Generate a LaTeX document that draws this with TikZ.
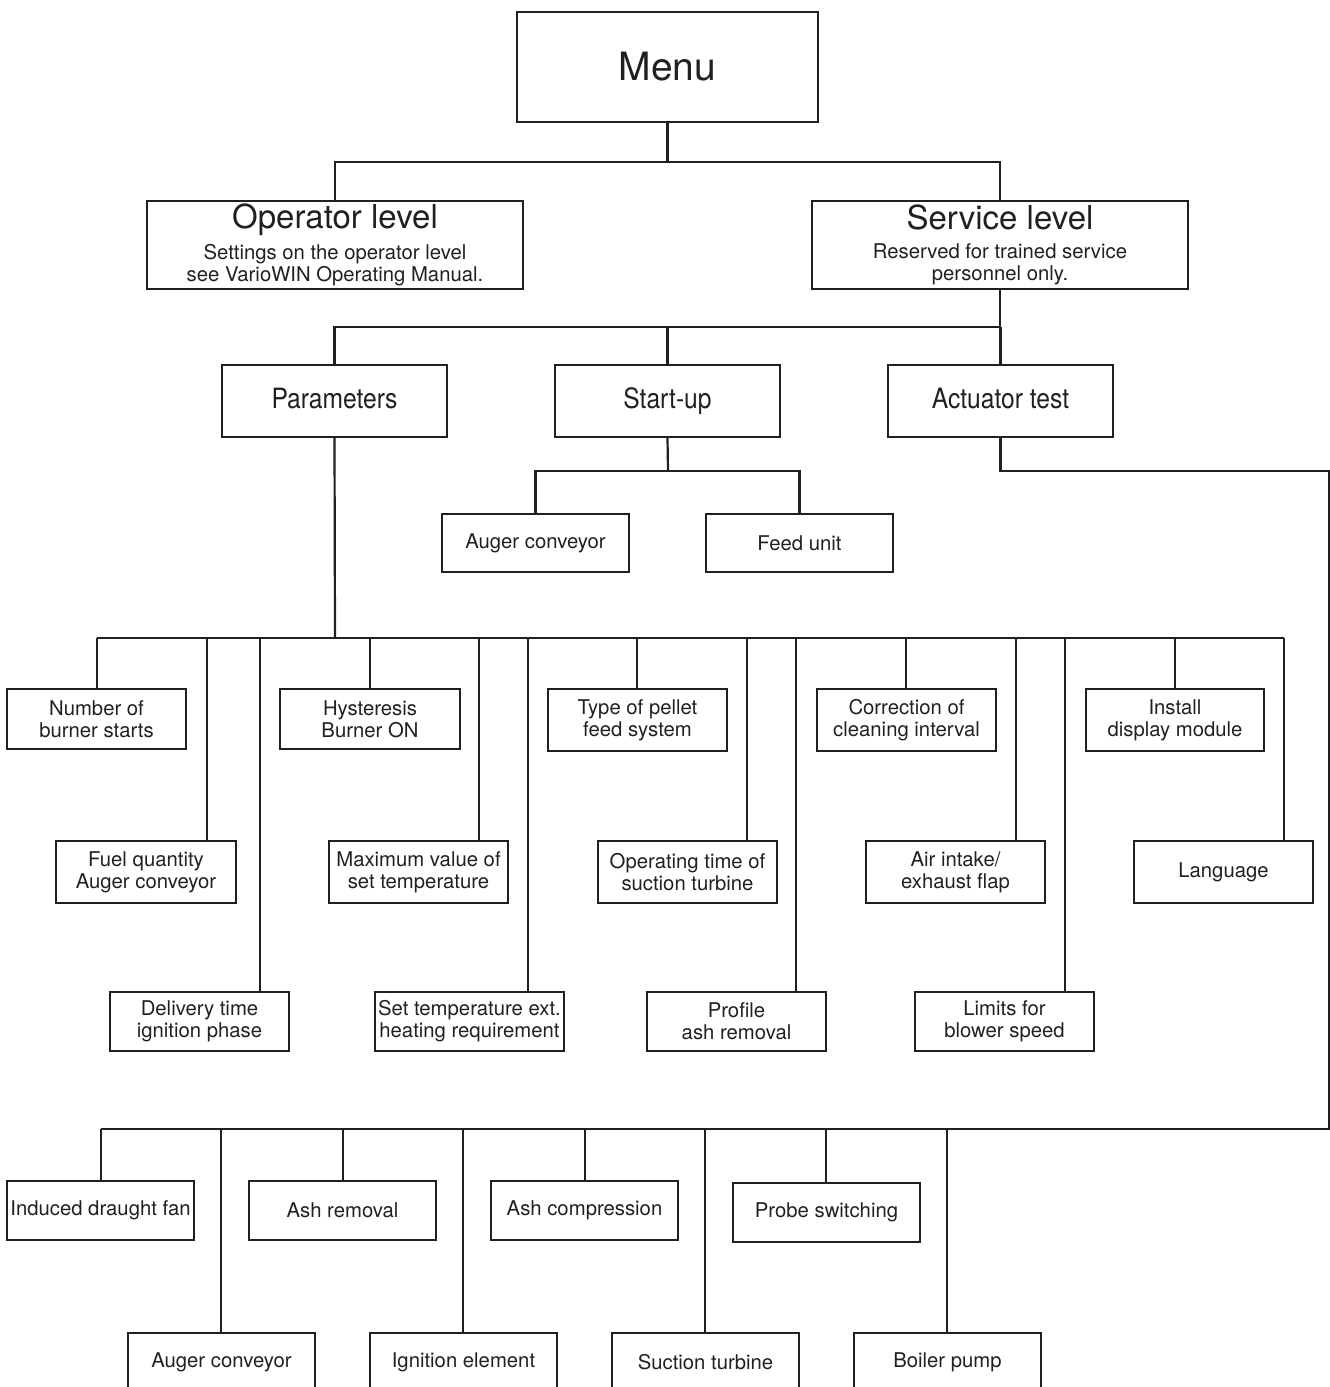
\documentclass[tikz,border=0pt]{standalone}
\usepackage{fontspec}
\setmainfont{TeX Gyre Heros}
\newfontfamily\condfont[FakeStretch=0.88]{TeX Gyre Heros}
\usepackage{tikz}
\definecolor{ink}{HTML}{231F20}
\tikzstyle{box}=[draw=ink,line width=2.2pt,text=ink,align=center,inner sep=2pt,font=\fontsize{20.3}{22}\selectfont]
\tikzstyle{sub box}=[box,font=\condfont\fontsize{28}{30}\selectfont,text height=20pt,text depth=6pt,minimum width=225pt,minimum height=72pt]
\tikzstyle{level box}=[box,minimum width=376pt,minimum height=88pt]
\tikzstyle{edge}=[draw=ink,line width=2.2pt]

\begin{document}
\begin{tikzpicture}[x=1pt,y=-1pt]
    \useasboundingbox (0,0) rectangle (1330,1387);
    \clip (0,0) rectangle (1330,1387);

    % The upper levels
    \node[box,minimum width=301pt,minimum height=110pt,font=\fontsize{39}{40}\selectfont] (menu) at (667.5,67) {Menu};
    \node[level box] (oplevel) at (335,245) {{\fontsize{33}{30}\selectfont Operator level}\\[7pt]
        Settings on the operator level\\see VarioWIN Operating Manual.};
    \node[level box] (svlevel) at (1000,245) {{\fontsize{33}{30}\selectfont Service level}\\[7pt]
        Reserved for trained service\\personnel only.};

    \foreach \pos/\name/\txt in {{(334.5,401)/params/Parameters}, {(667.5,401)/startup/Start-up}, {(1000.5,401)/acttest/Actuator test}}
        \node[sub box] (\name) at \pos {\txt};

    \foreach \pos/\name/\txt in {{(535.5,543)/augerconv/Auger conveyor}, {(799.5,543)/feedunit/Feed unit}}
        \node[box,minimum width=187pt,minimum height=58pt] (\name) at \pos {\txt};

    % Connect the upper levels
    \coordinate (topbus) at (668,162);
    \coordinate (midbus) at (1000,327);
    \coordinate (subus) at (668,471);
    \path[edge] (menu.south) -- (menu.south |- topbus);
    \path[edge] (oplevel.north) |- (topbus) -| (svlevel.north);
    \path[edge] (svlevel.south) -- (midbus);
    \path[edge] (params.north) |- (midbus);
    \path[edge] (startup.north) -- (startup.north |- midbus);
    \path[edge] (acttest.north) -- (acttest.north |- midbus);
    \path[edge] (startup.south) -- (subus);
    \path[edge] (augerconv.north) |- (subus) -| (feedunit.north);

    % Parameters: boxes with the x of their tap on the bus
    \foreach \cx/\cy/\w/\h/\dx/\name/\txt in {
        96.5/719/179/60/97/burnerstarts/{Number of\\burner starts},
        370/719/180/60/370/hysteresis/{Hysteresis\\Burner ON},
        637.5/720/179/62/637/pelletfeed/{Type of pellet\\feed system},
        906.5/720/179/62/906/cleaning/{Correction of\\cleaning interval},
        1175/720/178/62/1175/displaymod/{Install\\display module},
        146/872/180/62/207/fuelqty/{Fuel quantity\\Auger conveyor},
        418.5/872/179/62/479/maxtemp/{Maximum value of\\set temperature},
        687.5/872/179/62/747/suctiontime/{Operating time of\\suction turbine},
        955.5/872/179/62/1016/airflap/{Air intake/\\exhaust flap},
        1223.5/872/179/62/1284/language/{Language},
        199.5/1021.5/179/59/260/deliverytime/{Delivery time\\ignition phase},
        469.5/1021.5/189/59/528/exttemp/{Set temperature ext.\\heating requirement},
        736.5/1021.5/179/59/796/ashprofile/{Profile\\ash removal},
        1004.5/1021.5/179/59/1065/blowerspeed/{Limits for\\blower speed}}
    {
        \node[box,minimum width=\w pt,minimum height=\h pt] (\name) at (\cx,\cy) {\txt};
        \coordinate (\name-in) at (\dx,638);
        \path[edge] (\name-in) -- (\name-in |- \name.north);
    }
    \coordinate (pbus) at (335,638);
    \path[edge] (params.south) -- (pbus);
    \path[edge] (burnerstarts-in) -- (language-in);

    % Actuator test
    \foreach \cx/\cy/\dx/\name/\txt in {
        100.5/1210.5/101/inddraught/{Induced draught fan},
        342.5/1210.5/343/ashremoval/{Ash removal},
        584.5/1210.5/585/ashcompr/{Ash compression},
        826.5/1212.5/826/probesw/{Probe switching},
        221.5/1362.5/221/augerconv2/{Auger conveyor},
        463.5/1362.5/463/ignition/{Ignition element},
        705.5/1362.5/705/suction/{Suction turbine},
        947.5/1362.5/947/boilerpump/{Boiler pump}}
    {
        \node[box,minimum width=187pt,minimum height=59pt] (\name) at (\cx,\cy) {\txt};
        \coordinate (\name-in) at (\dx,1129);
        \path[edge] (\name-in) -- (\name-in |- \name.north);
    }
    \coordinate (abend) at (1329,471);
    \coordinate (abus) at (1329,1129);
    \path[edge] (acttest.south) |- (abend) -- (abus) -- (inddraught-in);

\end{tikzpicture}
\end{document}
